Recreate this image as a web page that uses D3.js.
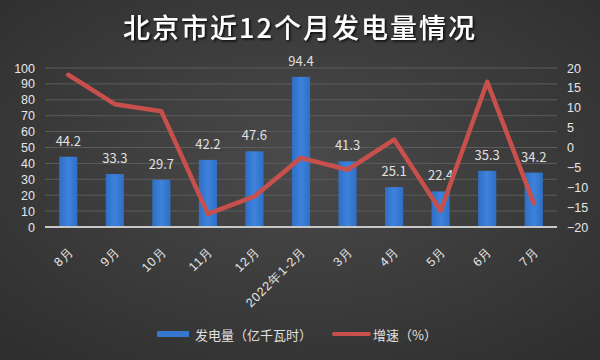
<!doctype html>
<html lang="zh">
<head>
  <meta charset="utf-8">
  <style>
    body { margin: 0; background: #333; }
    svg { display: block; font-family: "Noto Sans CJK SC", "Open Sans", sans-serif; }
    .grid line { stroke: #5c5c5c; stroke-width: 1px; }
    .tick text { fill: #e6e6e6; font-size: 12.5px; }
    .lbl { fill: #e0e0e0; font-size: 13px; text-anchor: middle; }
  </style>
</head>
<body>
<script src="https://cdn.jsdelivr.net/npm/d3@7"></script>
<script>
var width = 600, height = 360;

var months = ["8月", "9月", "10月", "11月", "12月", "2022年1-2月", "3月", "4月", "5月", "6月", "7月"];
var output = [44.2, 33.3, 29.7, 42.2, 47.6, 94.4, 41.3, 25.1, 22.4, 35.3, 34.2];
var growth = [18.3, 10.9, 9.1, -16.7, -12.3, -2.6, -5.6, 2.0, -15.9, 16.5, -14.0];
var leftTicks = [0, 10, 20, 30, 40, 50, 60, 70, 80, 90, 100];
var rightTicks = [-20, -15, -10, -5, 0, 5, 10, 15, 20];

// plot area (note: "top" is reserved on window)
var plotL = 45, plotR = 557, plotT = 68, plotB = 227;

var svg = d3.select("body").append("svg")
  .attr("width", width)
  .attr("height", height);

var defs = svg.append("defs");
var bg = defs.append("radialGradient").attr("id", "bg")
  .attr("cx", "50%").attr("cy", "45%").attr("r", "70%");
bg.append("stop").attr("offset", "0%").attr("stop-color", "#4a4a4a");
bg.append("stop").attr("offset", "100%").attr("stop-color", "#2f2f2f");
var bar = defs.append("linearGradient").attr("id", "bar")
  .attr("x1", 0).attr("x2", 1).attr("y1", 0).attr("y2", 0);
bar.append("stop").attr("offset", "0%").attr("stop-color", "#2f6fc4");
bar.append("stop").attr("offset", "50%").attr("stop-color", "#3d82dc");
bar.append("stop").attr("offset", "100%").attr("stop-color", "#2f6fc4");
var shadow = defs.append("filter").attr("id", "shadow");
shadow.append("feDropShadow").attr("dx", 1.5).attr("dy", 1.5)
  .attr("stdDeviation", 0.8).attr("flood-color", "#000").attr("flood-opacity", 0.8);

svg.append("rect").attr("width", width).attr("height", height).attr("fill", "url(#bg)");

// title
svg.append("text")
  .attr("x", 300).attr("y", 38)
  .attr("text-anchor", "middle")
  .attr("fill", "#ffffff")
  .attr("font-size", 27)
  .attr("font-weight", 500)
  .attr("letter-spacing", 2)
  .attr("filter", "url(#shadow)")
  .text("北京市近12个月发电量情况");

var x = d3.scaleBand().domain(months).range([plotL, plotR]).paddingInner(0.61).paddingOuter(0.305);
var y = d3.scaleLinear().domain([0, 100]).range([plotB, plotT]);
var y2 = d3.scaleLinear().domain([-20, 20]).range([plotB, plotT]);

// gridlines
svg.append("g").attr("class", "grid")
  .selectAll("line").data(leftTicks.slice(1))
  .enter().append("line")
  .attr("x1", plotL).attr("x2", plotR)
  .attr("y1", function(d) { return y(d); })
  .attr("y2", function(d) { return y(d); });

// left axis
var ya = svg.append("g").attr("transform", "translate(" + plotL + ",0)")
  .call(d3.axisLeft(y).tickValues(leftTicks).tickSize(0).tickPadding(10));
ya.select(".domain").remove();

// right axis
var yb = svg.append("g").attr("transform", "translate(" + plotR + ",0)")
  .call(d3.axisRight(y2).tickValues(rightTicks).tickSize(0).tickPadding(10));
yb.select(".domain").remove();

// bars
svg.append("g").selectAll("rect").data(output)
  .enter().append("rect")
  .attr("x", function(d, i) { return x(months[i]); })
  .attr("width", x.bandwidth())
  .attr("y", function(d) { return y(d); })
  .attr("height", function(d) { return y(0) - y(d); })
  .attr("fill", "url(#bar)");

// bar labels
svg.append("g").selectAll("text").data(output)
  .enter().append("text")
  .attr("class", "lbl")
  .attr("x", function(d, i) { return x(months[i]) + x.bandwidth() / 2; })
  .attr("y", function(d) { return y(d) - 11; })
  .text(function(d) { return d.toFixed(1); });

// baseline
svg.append("line")
  .attr("x1", plotL).attr("x2", plotR)
  .attr("y1", y(0)).attr("y2", y(0))
  .attr("stroke", "#c8c8c8").attr("stroke-width", 2);

// x axis labels
var xa = svg.append("g").attr("transform", "translate(0," + plotB + ")")
  .call(d3.axisBottom(x).tickSize(0));
xa.select(".domain").remove();
xa.selectAll("text")
  .attr("font-size", 14.5)
  .attr("letter-spacing", 0.8)
  .attr("text-anchor", "end")
  .attr("y", 0)
  .attr("dy", 0)
  .attr("transform", "translate(6,25) rotate(-45)");

// growth line
var line = d3.line()
  .x(function(d, i) { return x(months[i]) + x.bandwidth() / 2; })
  .y(function(d) { return y2(d); });
svg.append("path").datum(growth)
  .attr("d", line)
  .attr("fill", "none")
  .attr("stroke", "#c8504c")
  .attr("stroke-width", 4.5)
  .attr("stroke-linejoin", "round")
  .attr("stroke-linecap", "round");

// legend
var lg = svg.append("g");
lg.append("rect").attr("x", 157).attr("y", 331).attr("width", 32).attr("height", 6).attr("fill", "#3577cf");
lg.append("text").attr("x", 195).attr("y", 340).attr("fill", "#e0e0e0").attr("font-size", 13).text("发电量（亿千瓦时）");
lg.append("line").attr("x1", 334).attr("x2", 369).attr("y1", 334).attr("y2", 334)
  .attr("stroke", "#c8504c").attr("stroke-width", 4).attr("stroke-linecap", "round");
lg.append("text").attr("x", 373).attr("y", 340).attr("fill", "#e0e0e0").attr("font-size", 13).text("增速（%）");
</script>
</body>
</html>
